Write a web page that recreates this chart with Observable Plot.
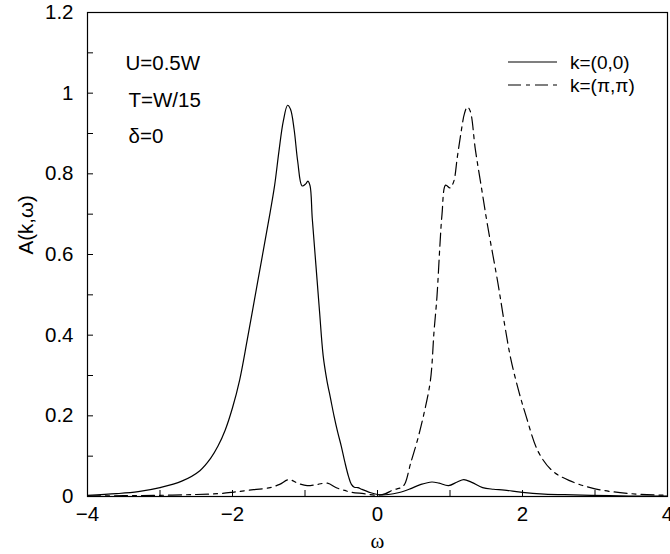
<!DOCTYPE html>
<html><head><meta charset="utf-8">
<script src="https://cdn.jsdelivr.net/npm/d3@7"></script>
<script src="https://cdn.jsdelivr.net/npm/@observablehq/plot@0.6"></script>
<style>
body{margin:0;background:#fff}
#wrap{position:relative;width:670px;height:554px}
#legend{position:absolute;left:0;top:0;pointer-events:none}
</style>
</head><body><div id="wrap"></div>
<script>
// k=(0,0) spectral function
const omega00 = [-4, -3.6, -3.3, -3.0, -2.7, -2.45, -2.3, -2.2, -2.1, -2.0, -1.9, -1.8, -1.7, -1.6, -1.5, -1.42, -1.36, -1.3, -1.24, -1.2, -1.15, -1.1, -1.04, -0.99, -0.96, -0.93, -0.9, -0.85, -0.8, -0.75, -0.7, -0.65, -0.6, -0.55, -0.5, -0.45, -0.4, -0.36, -0.32, -0.27, -0.22, -0.12, 0, 0.15, 0.3, 0.45, 0.6, 0.75, 0.85, 0.98, 1.1, 1.19, 1.3, 1.45, 1.6, 1.75, 2.0, 2.3, 2.7, 3.2, 3.6, 4.0];
const A00 = [0.003, 0.007, 0.012, 0.022, 0.038, 0.064, 0.095, 0.125, 0.165, 0.22, 0.29, 0.385, 0.485, 0.585, 0.685, 0.77, 0.855, 0.93, 0.97, 0.96, 0.91, 0.83, 0.77, 0.775, 0.782, 0.77, 0.69, 0.575, 0.46, 0.35, 0.29, 0.245, 0.2, 0.16, 0.125, 0.085, 0.05, 0.03, 0.023, 0.022, 0.018, 0.011, 0.005, 0.005, 0.01, 0.019, 0.03, 0.036, 0.033, 0.027, 0.036, 0.042, 0.035, 0.022, 0.018, 0.016, 0.01, 0.006, 0.004, 0.002, 0.001, 0.001];
// k=(pi,pi) spectral function
const omegaPiPi = [-4, -3.5, -3.0, -2.5, -2.2, -1.98, -1.71, -1.48, -1.35, -1.22, -1.1, -0.97, -0.83, -0.69, -0.56, -0.45, -0.37, -0.19, 0, 0.11, 0.2, 0.27, 0.34, 0.386, 0.455, 0.55, 0.64, 0.73, 0.78, 0.82, 0.86, 0.89, 0.94, 1.0, 1.05, 1.1, 1.15, 1.2, 1.24, 1.28, 1.35, 1.43, 1.52, 1.66, 1.75, 1.84, 1.95, 2.04, 2.22, 2.41, 2.64, 3.0, 3.5, 4.0];
const APiPi = [0.001, 0.002, 0.003, 0.005, 0.007, 0.011, 0.017, 0.022, 0.03, 0.042, 0.033, 0.027, 0.03, 0.033, 0.021, 0.015, 0.011, 0.007, 0.003, 0.007, 0.015, 0.019, 0.023, 0.035, 0.081, 0.139, 0.205, 0.288, 0.41, 0.495, 0.62, 0.70, 0.772, 0.765, 0.78, 0.84, 0.90, 0.95, 0.966, 0.955, 0.86, 0.77, 0.67, 0.53, 0.43, 0.34, 0.26, 0.205, 0.11, 0.064, 0.04, 0.019, 0.007, 0.003];

const seriesNames = ["k=(0,0)", "k=(\u03c0,\u03c0)"];
const annotations = ["U=0.5W", "T=W/15", "\u03b4=0"];
const xMajorTicks = [-4, -2, 0, 2, 4];
const xMinorTicks = [-3, -1, 1, 3];
const yMajorTicks = [0, 0.2, 0.4, 0.6, 0.8, 1.0, 1.2];
const yMinorTicks = [0.1, 0.3, 0.5, 0.7, 0.9, 1.1];
const xLabel = "\u03c9";
const yLabel = "A(k,\u03c9)";

const font = "Liberation Sans, Arial, Helvetica, sans-serif";
const fs = 20.5;
const legendFs = 19;
const dashPattern = "13,5,4,5";

const d00 = omega00.map((w, i) => ({w, a: A00[i]}));
const dPi = omegaPiPi.map((w, i) => ({w, a: APiPi[i]}));

const chart = Plot.plot({
  width: 670,
  height: 554,
  marginLeft: 87,
  marginRight: 3,
  marginTop: 12,
  marginBottom: 58,
  style: {fontFamily: font, fontSize: fs + "px", color: "black", background: "white"},
  x: {domain: [-4, 4]},
  y: {domain: [0, 1.2]},
  marks: [
    Plot.axisX({ticks: xMajorTicks, tickSize: 0, tickPadding: 10, label: null, fontSize: fs}),
    Plot.axisY({ticks: yMajorTicks, tickSize: 0, tickPadding: 14, label: null, fontSize: fs, tickFormat: d3.format("~g")}),
    Plot.axisX({ticks: xMajorTicks.concat(xMinorTicks), tickSize: -6, tickFormat: () => "", label: null}),
    Plot.axisY({ticks: yMajorTicks.concat(yMinorTicks), tickSize: -6, tickFormat: () => "", label: null}),
    Plot.frame({stroke: "black", strokeWidth: 1.2}),
    Plot.line(d00, {x: "w", y: "a", stroke: "black", strokeWidth: 1.2, curve: "catmull-rom"}),
    Plot.line(dPi, {x: "w", y: "a", stroke: "black", strokeWidth: 1.2, strokeDasharray: dashPattern, curve: "catmull-rom"}),
    Plot.text(annotations, {text: d => d, frameAnchor: "top-left", textAnchor: "start", fontSize: fs}),
    Plot.text([xLabel], {text: d => d, frameAnchor: "bottom", dy: 51, fontSize: 21, fontFamily: "Liberation Serif, Times New Roman, serif"}),
    Plot.text([yLabel], {text: d => d, frameAnchor: "left", dx: -61, rotate: -90, fontSize: fs})
  ]
});
document.getElementById("wrap").appendChild(chart);

// place annotation texts inside the frame (pixel offsets from the frame's top-left)
const annOffsets = [[38, 43], [41, 80], [41, 116]];
const annTexts = chart.querySelectorAll("g[aria-label='text']")[0].querySelectorAll("text");
annTexts.forEach((t, i) => {
  t.setAttribute("transform", `translate(${87 + annOffsets[i][0]},${12 + annOffsets[i][1]})`);
});

// legend overlay
const lg = d3.select("#wrap").append("svg").attr("id", "legend").attr("width", 670).attr("height", 554);
const rows = lg.selectAll("g").data(seriesNames).join("g")
  .attr("transform", (d, i) => `translate(508,${62 + i * 23})`);
rows.append("line").attr("x1", 0).attr("x2", 49).attr("y1", 0).attr("y2", 0)
  .attr("stroke", "black").attr("stroke-width", 1.2)
  .attr("stroke-dasharray", (d, i) => i === 0 ? null : dashPattern);
rows.append("text").attr("x", 62).attr("y", 0).attr("dy", "0.35em")
  .attr("font-family", font).attr("font-size", legendFs).text(d => d);
</script>
</body></html>
